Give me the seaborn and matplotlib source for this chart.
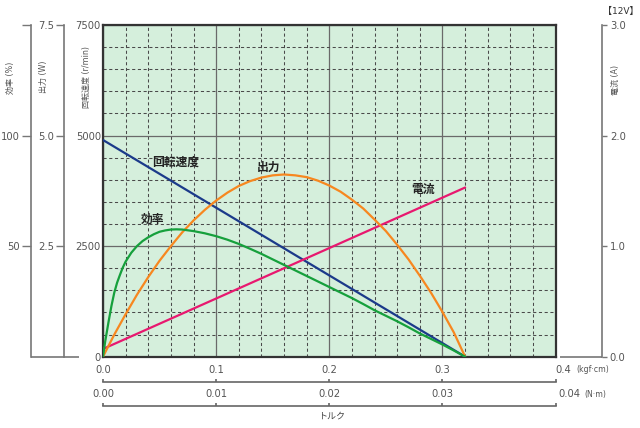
import matplotlib
matplotlib.use("Agg")
import matplotlib.pyplot as plt
from matplotlib.ticker import MultipleLocator
import seaborn as sns
import pandas as pd

# ---------------- data ----------------
torque_speed = [0.0, 0.32]            # kgf·cm
speed = [4900, 0]                     # r/min

torque_current = [0.0, 0.32]
current = [0.07, 1.53]                # A

torque_out = [0.00, 0.01, 0.02, 0.03, 0.04, 0.05, 0.06, 0.07, 0.08, 0.09,
              0.10, 0.11, 0.12, 0.13, 0.14, 0.15, 0.16, 0.17, 0.18, 0.19,
              0.20, 0.21, 0.22, 0.23, 0.24, 0.25, 0.26, 0.27, 0.28, 0.29,
              0.30, 0.31, 0.32]
output = [0.00, 0.50, 0.96, 1.40, 1.80, 2.17, 2.50, 2.81, 3.08, 3.32,
          3.53, 3.71, 3.86, 3.97, 4.05, 4.10, 4.12, 4.10, 4.06, 3.98,
          3.87, 3.73, 3.55, 3.35, 3.10, 2.84, 2.53, 2.20, 1.83, 1.44,
          1.01, 0.55, 0.00]             # W

torque_eff = [0, 0.001, 0.002, 0.003, 0.005, 0.0075, 0.01, 0.0125, 0.015,
              0.0175, 0.02, 0.025, 0.03, 0.035, 0.04, 0.045, 0.05, 0.055,
              0.06, 0.065, 0.07, 0.08, 0.09, 0.10, 0.11, 0.12, 0.13, 0.14,
              0.15, 0.16, 0.17, 0.18, 0.19, 0.20, 0.21, 0.22, 0.23, 0.24,
              0.25, 0.26, 0.27, 0.28, 0.29, 0.30, 0.31, 0.32]
efficiency = [0, 3.5, 7, 10, 16, 23, 29, 33.5, 37,
              40.3, 43, 47, 50, 52.3, 54, 55.4, 56.5, 57.1,
              57.5, 57.6, 57.5, 56.8, 55.8, 54.5, 52.9, 51, 48.8, 46.5,
              44, 41.5, 39, 36.5, 34, 31.5, 29, 26.5, 23.8, 21,
              18.5, 16, 13.3, 10.5, 8, 5.5, 2.8, 0]          # %

x_ticks_kgf = [0.0, 0.1, 0.2, 0.3, 0.4]
x_labels_kgf = ["0.0", "0.1", "0.2", "0.3", ""]
x_ticks_nm = [0.0, 0.01, 0.02, 0.03, 0.04]
x_labels_nm = ["0.00", "0.01", "0.02", "0.03", ""]
speed_ticks = [0, 2500, 5000, 7500]
out_ticks = [2.5, 5.0, 7.5]
out_labels = ["2.5", "5.0", "7.5"]
eff_ticks = [50, 100, 150]
eff_labels = ["50", "100", ""]
cur_ticks = [0, 1, 2, 3]
cur_labels = ["0.0", "1.0", "2.0", "3.0"]

df_speed = pd.DataFrame({"torque": torque_speed, "value": speed})
df_cur = pd.DataFrame({"torque": torque_current, "value": current})
df_out = pd.DataFrame({"torque": torque_out, "value": output})
df_eff = pd.DataFrame({"torque": torque_eff, "value": efficiency})

# ---------------- style ----------------
sns.set_style("white")
plt.rcParams["font.family"] = ["DejaVu Sans", "Noto Sans CJK JP"]

C_SPEED = "#1b3a8a"
C_OUT = "#f7871f"
C_EFF = "#16a03c"
C_CUR = "#e8186f"
AXC = "#777777"
TXT = "#555555"
NUM = 7.2

fig = plt.figure(figsize=(6.4, 4.28), dpi=100)
ax = fig.add_axes([0.1609, 0.1666, 0.7073, 0.775])
ax.set_facecolor("#d5efdc")
ax.set_xlim(0, 0.4)
ax.set_ylim(0, 7500)
ax.xaxis.set_major_locator(MultipleLocator(0.1))
ax.xaxis.set_minor_locator(MultipleLocator(0.02))
ax.yaxis.set_major_locator(MultipleLocator(2500))
ax.yaxis.set_minor_locator(MultipleLocator(500))
ax.grid(which="major", color="#6a6a6a", lw=0.9, ls="-")
ax.grid(which="minor", color="#4a4a4a", lw=0.75, ls=(0, (3, 2.5)))
ax.set_axisbelow(True)
ax.tick_params(axis="x", which="both", length=0, labelbottom=False)
ax.tick_params(axis="y", which="both", length=0, labelsize=NUM, pad=1.5,
               labelcolor=TXT)
ax.set_yticks(speed_ticks)
ax.set_yticklabels([str(v) for v in speed_ticks])
for s in ax.spines.values():
    s.set_color("#333333")
    s.set_linewidth(1.6)

sns.lineplot(data=df_speed, x="torque", y="value", ax=ax, color=C_SPEED,
             lw=1.6, zorder=3)
ax.set_xlabel("")
ax.set_ylabel("")

# current axis (right)
ax_cur = ax.twinx()
ax_cur.set_ylim(0, 3)
sns.lineplot(data=df_cur, x="torque", y="value", ax=ax_cur, color=C_CUR, lw=1.6)
ax_cur.set_yticks(cur_ticks)
ax_cur.set_yticklabels(cur_labels)
for k in ["top", "bottom", "left"]:
    ax_cur.spines[k].set_visible(False)
ax_cur.spines["right"].set_position(("axes", 1.1025))
ax_cur.spines["right"].set_color(AXC)
ax_cur.spines["right"].set_linewidth(1.2)
ax_cur.tick_params(axis="y", direction="out", length=3.6, width=1.0, color=AXC,
                   labelsize=NUM, labelcolor=TXT, pad=2)
ax_cur.set_ylabel("")
ax_cur.set_xlabel("")

# output axis (left, middle)
ax_out = ax.twinx()
ax_out.set_ylim(0, 7.5)
sns.lineplot(data=df_out, x="torque", y="value", ax=ax_out, color=C_OUT, lw=1.6)
ax_out.yaxis.set_ticks_position("left")
ax_out.set_yticks(out_ticks)
ax_out.set_yticklabels(out_labels)
for k in ["top", "bottom", "right"]:
    ax_out.spines[k].set_visible(False)
ax_out.spines["left"].set_visible(True)
ax_out.spines["left"].set_position(("axes", -0.0855))
ax_out.spines["left"].set_color(AXC)
ax_out.spines["left"].set_linewidth(1.2)
ax_out.tick_params(axis="y", direction="out", length=5.8, width=1.0, color=AXC,
                   labelsize=NUM, labelcolor=TXT, pad=1.5)
ax_out.set_ylabel("")
ax_out.set_xlabel("")

# efficiency axis (far left)
ax_eff = ax.twinx()
ax_eff.set_ylim(0, 150)
sns.lineplot(data=df_eff, x="torque", y="value", ax=ax_eff, color=C_EFF, lw=1.6)
ax_eff.yaxis.set_ticks_position("left")
ax_eff.set_yticks(eff_ticks)
ax_eff.set_yticklabels(eff_labels)
for k in ["top", "bottom", "right"]:
    ax_eff.spines[k].set_visible(False)
ax_eff.spines["left"].set_visible(True)
ax_eff.spines["left"].set_position(("axes", -0.16))
ax_eff.spines["left"].set_color(AXC)
ax_eff.spines["left"].set_linewidth(1.2)
ax_eff.tick_params(axis="y", direction="out", length=6.5, width=1.0, color=AXC,
                   labelsize=NUM, labelcolor=TXT, pad=1)
ax_eff.set_ylabel("")
ax_eff.set_xlabel("")

# bottom connector lines
ax.plot([-0.16, -0.0524], [0, 0], transform=ax.transAxes, clip_on=False,
        color=AXC, lw=1.2, solid_capstyle="butt")
ax.plot([1.0097, 1.1025], [0, 0], transform=ax.transAxes, clip_on=False,
        color=AXC, lw=1.2, solid_capstyle="butt")

# torque axes (below)
def torque_axis(xmax, ticks, labels, pos):
    a = ax.twiny()
    a.set_xlim(0, xmax)
    a.set_xticks(ticks)
    a.set_xticklabels(labels)
    a.xaxis.set_ticks_position("top")
    a.xaxis.set_label_position("top")
    for k in ["bottom", "left", "right"]:
        a.spines[k].set_visible(False)
    a.spines["top"].set_position(("axes", pos))
    a.spines["top"].set_color("#666666")
    a.spines["top"].set_linewidth(1.2)
    a.tick_params(axis="x", direction="out", length=2.5, width=1.2,
                  color="#666666", labelsize=NUM, labelcolor=TXT, pad=2.6)
    a.tick_params(axis="y", left=False, right=False, labelleft=False,
                  labelright=False)
    return a

ax_k = torque_axis(0.4, x_ticks_kgf, x_labels_kgf, -0.0754)
ax_n = torque_axis(0.04, x_ticks_nm, x_labels_nm, -0.1477)

ax.text(1.0, -0.0401, "0.4", transform=ax.transAxes, ha="left", va="center",
        fontsize=NUM, color=TXT)
ax.text(1.045, -0.0401, "(kgf·cm)", transform=ax.transAxes, ha="left",
        va="center", fontsize=5.6, color=TXT)
ax.text(1.005, -0.1125, "0.04", transform=ax.transAxes, ha="left",
        va="center", fontsize=NUM, color=TXT)
ax.text(1.0627, -0.1125, "(N·m)", transform=ax.transAxes, ha="left",
        va="center", fontsize=5.6, color=TXT)
ax.text(0.506, -0.1788, "トルク", transform=ax.transAxes, ha="center",
        va="center", fontsize=6.5, color="#444444")

# axis titles
fig.text(0.0156, 0.819, "効率 (%)", rotation=90, ha="center", va="center",
         fontsize=5.8, color=TXT)
fig.text(0.0677, 0.8208, "出力 (W)", rotation=90, ha="center", va="center",
         fontsize=5.8, color=TXT)
fig.text(0.1355, 0.819, "回転速度 (r/min)", rotation=90, ha="center",
         va="center", fontsize=5.8, color=TXT)
fig.text(0.961, 0.813, "電流 (A)", rotation=90, ha="center", va="center",
         fontsize=5.8, color=TXT)
fig.text(0.997, 0.9727, "【12V】", ha="right", va="center", fontsize=6.5,
         color="#333333")

# curve labels
lab = dict(fontsize=8.5, color="#222222", ha="center", va="center", zorder=5,
           fontweight="bold")
ax.text(0.0641, 4391, "回転速度", **lab)
ax.text(0.1465, 4287, "出力", **lab)
ax.text(0.0440, 3109, "効率", **lab)
ax.text(0.283, 3787, "電流", **lab)

for a in (ax, ax_cur, ax_out, ax_eff):
    leg = a.get_legend()
    if leg:
        leg.remove()

fig.savefig("out.png", dpi=100)
